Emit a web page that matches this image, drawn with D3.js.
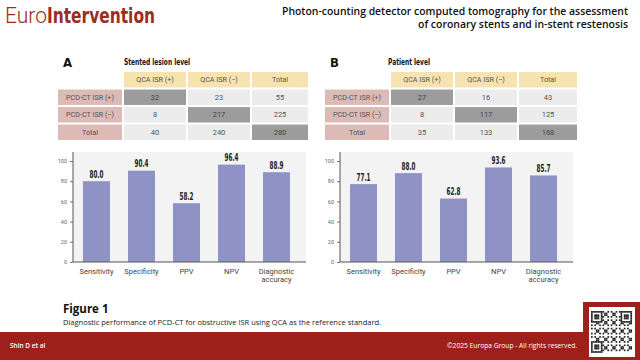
<!DOCTYPE html>
<html>
<head>
<meta charset="utf-8">
<script src="https://cdn.jsdelivr.net/npm/d3@7/dist/d3.min.js"></script>
<style>
  html, body { margin: 0; padding: 0; background: #fff; }
  svg { display: block; }
</style>
</head>
<body>
<script>
// ---------- DATA ----------
const rowLabels = ["PCD-CT ISR (+)", "PCD-CT ISR (\u2212)", "Total"];
const colLabels = ["QCA ISR (+)", "QCA ISR (\u2212)", "Total"];
const tableA = [[32, 23, 55], [8, 217, 225], [40, 240, 280]];
const tableB = [[27, 16, 43], [8, 117, 125], [35, 133, 168]];

const metrics = ["Sensitivity", "Specificity", "PPV", "NPV", "Diagnostic accuracy"];
const valuesA = [80.0, 90.4, 58.2, 96.4, 88.9];
const valuesB = [77.1, 88.0, 62.8, 93.6, 85.7];
const yTicks = [0, 20, 40, 60, 80, 100];

// ---------- STYLE ----------
const W = 640, H = 360;
const red = "#9d201b";
const brand = "#9b2d24";
const pink = "#dcbab5";
const yellow = "#f6e3b0";
const lightCell = "#ececec";
const darkCell = "#9c9c9c";
const barColor = "#8f92c4";
const narrow = "'DejaVu Sans Condensed','DejaVu Sans',sans-serif";

const svg = d3.select("body").append("svg").attr("width", W).attr("height", H);

// ---------- HEADER ----------
const logo = svg.append("text").attr("x", 5).attr("y", 23).attr("fill", brand).attr("font-size", 22);
logo.append("tspan").attr("font-family", "Roboto, sans-serif").attr("font-weight", 300)
  .attr("textLength", 42).attr("lengthAdjust", "spacingAndGlyphs").text("Euro");
logo.append("tspan").attr("font-family", narrow).attr("font-weight", "bold")
  .attr("textLength", 108).attr("lengthAdjust", "spacingAndGlyphs").text("Intervention");

const titleLines = ["Photon-counting detector computed tomography for the assessment",
                    "of coronary stents and in-stent restenosis"];
const titleW = [346, 210];
titleLines.forEach((t, i) => {
  svg.append("text").attr("x", 628).attr("y", 15 + i * 13).attr("text-anchor", "end")
    .attr("font-family", "'Open Sans',sans-serif").attr("font-weight", 600)
    .attr("font-size", 10.5).attr("fill", "#111")
    .attr("textLength", titleW[i]).attr("lengthAdjust", "spacingAndGlyphs").text(t);
});

// ---------- TABLES ----------
function drawTable(cfg) {
  const g = svg.append("g");
  g.append("text").attr("x", cfg.letterX).attr("y", 67).attr("font-family", narrow)
    .attr("font-weight", "bold").attr("font-size", 13).attr("fill", "#111").text(cfg.letter);
  g.append("text").attr("x", cfg.titleX).attr("y", 65).attr("font-family", narrow)
    .attr("font-weight", "bold").attr("font-size", 9.5).attr("fill", "#111")
    .attr("textLength", cfg.titleW).attr("lengthAdjust", "spacingAndGlyphs").text(cfg.title);

  const rowY = d3.scaleBand().domain(["h", 0, 1, 2]).range([72, 140]).paddingInner(0.12);
  const colsX = cfg.colX;
  const rh = rowY.bandwidth();
  const fontT = "Roboto, sans-serif";

  colLabels.forEach((c, j) => {
    g.append("rect").attr("x", colsX[j][0]).attr("y", rowY("h"))
      .attr("width", colsX[j][1]).attr("height", rh).attr("fill", yellow);
    g.append("text").attr("x", colsX[j][0] + colsX[j][1] / 2).attr("y", rowY("h") + rh / 2 + 2.5)
      .attr("text-anchor", "middle").attr("font-family", fontT).attr("font-size", 7.2)
      .attr("fill", "#555").text(c);
  });
  rowLabels.forEach((r, i) => {
    g.append("rect").attr("x", cfg.rowX[0]).attr("y", rowY(i))
      .attr("width", cfg.rowX[1]).attr("height", rh).attr("fill", pink);
    g.append("text").attr("x", cfg.rowX[0] + cfg.rowX[1] / 2).attr("y", rowY(i) + rh / 2 + 2.5)
      .attr("text-anchor", "middle").attr("font-family", fontT).attr("font-size", 7.2)
      .attr("fill", "#555").text(r);
    cfg.data[i].forEach((v, j) => {
      g.append("rect").attr("x", colsX[j][0]).attr("y", rowY(i))
        .attr("width", colsX[j][1]).attr("height", rh).attr("fill", i === j ? darkCell : lightCell);
      g.append("text").attr("x", colsX[j][0] + colsX[j][1] / 2).attr("y", rowY(i) + rh / 2 + 2.5)
        .attr("text-anchor", "middle").attr("font-family", fontT).attr("font-size", 7.5)
        .attr("fill", i === j ? "#444" : "#555").text(v);
    });
  });
}

drawTable({ letter: "A", letterX: 63, title: "Stented lesion level", titleX: 124, titleW: 66,
  rowX: [58, 64], colX: [[124, 62], [188, 62], [252, 56]], data: tableA });
drawTable({ letter: "B", letterX: 330, title: "Patient level", titleX: 388, titleW: 42,
  rowX: [325, 64], colX: [[391, 62], [455, 62], [519, 58]], data: tableB });

// ---------- BAR CHARTS ----------
function drawBars(x0, values) {
  const g = svg.append("g");
  const clipId = "clip" + x0;
  svg.append("clipPath").attr("id", clipId).append("rect")
    .attr("x", x0 - 30).attr("y", 140).attr("width", 270).attr("height", 144);
  g.attr("clip-path", `url(#${clipId})`);

  const y = d3.scaleLinear().domain([0, 100]).range([262, 161]);
  const x = d3.scaleBand().domain(metrics).range([x0, x0 + 227])
    .paddingInner(0.4).paddingOuter(0.222);

  g.append("rect").attr("x", x0).attr("y", 152).attr("width", 233).attr("height", 110)
    .attr("fill", "#f3f3f3");

  g.selectAll(".bar").data(values).join("rect")
    .attr("x", (d, i) => x(metrics[i])).attr("width", x.bandwidth())
    .attr("y", d => y(d)).attr("height", d => y(0) - y(d)).attr("fill", barColor);

  g.selectAll(".val").data(values).join("text")
    .attr("x", (d, i) => x(metrics[i]) + x.bandwidth() / 2).attr("y", d => y(d) - 3.5)
    .attr("text-anchor", "middle").attr("font-family", narrow).attr("font-weight", "bold")
    .attr("font-size", 11).attr("fill", "#222")
    .attr("textLength", 14).attr("lengthAdjust", "spacingAndGlyphs")
    .text(d => d.toFixed(1));

  // y axis
  const ya = d3.axisLeft(y).tickValues(yTicks).tickSize(3).tickPadding(3);
  const yg = g.append("g").attr("transform", `translate(${x0},0)`).call(ya);
  yg.select(".domain").attr("d", `M0,152V262`).attr("stroke", "#555");
  yg.selectAll(".tick line").attr("stroke", "#777");
  yg.selectAll(".tick text").attr("font-family", "Roboto, sans-serif").attr("font-size", 5.5)
    .style("fill", "#666");

  // x axis
  const xa = d3.axisBottom(x).tickSize(0).tickPadding(0);
  const xg = g.append("g").attr("transform", `translate(0,262)`).call(xa);
  xg.select(".domain").attr("d", `M${x0},0H${x0 + 233}`).attr("stroke", "#555");
  xg.selectAll(".tick text").remove();
  xg.selectAll(".tick").each(function (d) {
    const words = d === "Diagnostic accuracy" ? ["Diagnostic", "accuracy"] : [d];
    const t = d3.select(this).append("text").style("fill", "#444")
      .attr("font-family", "Roboto, sans-serif").attr("font-size", 7.5).attr("text-anchor", "middle");
    words.forEach((w, k) => t.append("tspan").attr("x", 0).attr("y", 12 + k * 8).text(w));
  });
}

drawBars(73, valuesA);
drawBars(340, valuesB);

// ---------- CAPTION ----------
svg.append("text").attr("x", 63).attr("y", 313).attr("font-family", "'Open Sans',sans-serif")
  .attr("font-weight", 700).attr("font-size", 11.5).attr("fill", "#111").text("Figure 1");
svg.append("text").attr("x", 63).attr("y", 325).attr("font-family", "'Open Sans',sans-serif")
  .attr("font-size", 7).attr("fill", "#222")
  .attr("textLength", 318).attr("lengthAdjust", "spacingAndGlyphs")
  .text("Diagnostic performance of PCD-CT for obstructive ISR using QCA as the reference standard.");

// ---------- FOOTER ----------
svg.append("rect").attr("x", 0).attr("y", 332).attr("width", W).attr("height", 28).attr("fill", red);
svg.append("text").attr("x", 10).attr("y", 348).attr("font-family", "'Open Sans',sans-serif")
  .attr("font-weight", 600).attr("font-size", 6.5).attr("fill", "#fff").text("Shin D et al");
svg.append("text").attr("x", 577).attr("y", 348).attr("text-anchor", "end")
  .attr("font-family", "'Open Sans',sans-serif").attr("font-size", 6.5).attr("fill", "#fff")
  .attr("textLength", 130).attr("lengthAdjust", "spacingAndGlyphs")
  .text("\u00a92025 Europa Group - All rights reserved.");

// QR box
svg.append("rect").attr("x", 583).attr("y", 302).attr("width", 57).attr("height", 58).attr("fill", red);
svg.append("rect").attr("x", 589).attr("y", 307).attr("width", 46).attr("height", 50).attr("fill", "#fff");
const qr = svg.append("g");
const N = 25, m = 1.64, qx = 591, qy = 311;
for (let i = 0; i < N; i++) {
  for (let j = 0; j < N; j++) {
    const inFinder = (a, b) => i >= a && i < a + 7 && j >= b && j < b + 7;
    let on;
    if (inFinder(0, 0) || inFinder(0, N - 7) || inFinder(N - 7, 0)) {
      const a = inFinder(0, 0) ? [0, 0] : inFinder(0, N - 7) ? [0, N - 7] : [N - 7, 0];
      const di = i - a[0], dj = j - a[1];
      on = di === 0 || di === 6 || dj === 0 || dj === 6 || (di >= 2 && di <= 4 && dj >= 2 && dj <= 4);
    } else {
      on = ((i * 7 + j * 13 + i * j * 3) % 5) < 2;
    }
    if (on) qr.append("rect").attr("x", qx + j * m).attr("y", qy + i * m * 1.02)
      .attr("width", m + 0.05).attr("height", m + 0.05).attr("fill", "#222");
  }
}
</script>
</body>
</html>
